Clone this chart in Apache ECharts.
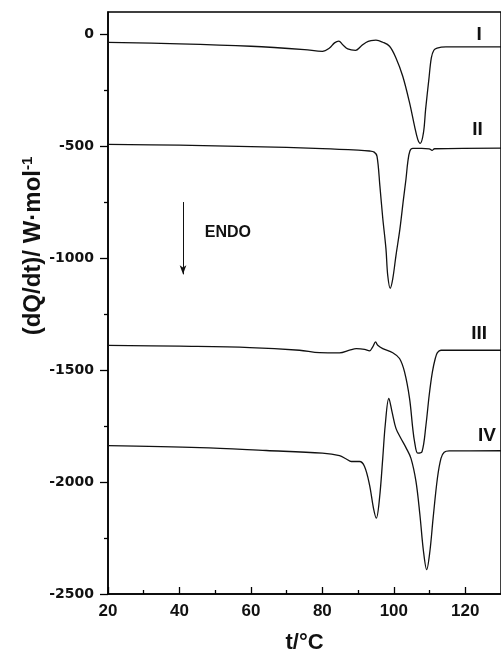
<!DOCTYPE html>
<html>
<head>
<meta charset="utf-8">
<script src="https://cdn.jsdelivr.net/npm/echarts@6/dist/echarts.min.js"></script>
<style>
  html, body { margin: 0; padding: 0; background: #fff; }
  #chart { width: 501px; height: 659px; }
</style>
</head>
<body>
<div id="chart"></div>
<script>
// temperatures (°C) and heat flow (W/mol)
const tI = [20, 40, 60, 75, 80, 82, 83.4, 84.6, 85.7, 87.1, 89.3, 90.8, 92.2, 93.6, 95, 96.9, 98.8, 100.6, 102.5, 104.4, 105.8, 106.7, 107.4, 108.3, 108.9, 109.8, 110.5, 111.2, 112.1, 114.6, 130];
const qI = [-36, -42, -53, -68, -76, -61, -38, -30, -46, -65, -71, -53, -36, -28, -26, -35, -53, -105, -187, -305, -410, -469, -487, -439, -335, -202, -105, -71, -61, -56, -56];

const tII = [20, 40, 60, 80, 90, 93.2, 94.5, 95.3, 96.1, 96.9, 97.8, 98.3, 99.0, 99.7, 100.6, 101.7, 102.7, 103.4, 103.9, 104.5, 105.3, 107.8, 109.9, 110.7, 111.4, 130];
const qII = [-491, -495, -501, -510, -517, -521, -526, -545, -677, -820, -958, -1077, -1134, -1092, -988, -870, -736, -647, -572, -521, -509, -509, -511, -518, -511, -508];

const tIII = [20, 40, 59.7, 73.6, 79.2, 84.8, 87.6, 89.5, 91.8, 93.2, 94.1, 94.9, 95.5, 96.9, 99.7, 101.6, 103.0, 104.4, 105.3, 105.8, 106.7, 107.9, 109.0, 109.9, 110.8, 111.6, 112.2, 113.2, 130];
const qIII = [-1389, -1393, -1399, -1411, -1422, -1423, -1411, -1404, -1407, -1414, -1396, -1374, -1389, -1404, -1422, -1448, -1508, -1626, -1760, -1819, -1871, -1864, -1745, -1612, -1508, -1448, -1422, -1411, -1411];

const tIV = [20, 45.7, 64.3, 80, 84.8, 86.7, 88.1, 90.4, 91.8, 93.2, 94.3, 95.1, 96.0, 96.9, 97.6, 98.6, 99.5, 100.6, 102.0, 103.4, 104.8, 106.2, 107.3, 108.3, 109.2, 110.1, 111.0, 112.2, 113.2, 114.1, 115.5, 130];
const qIV = [-1837, -1846, -1859, -1871, -1882, -1897, -1908, -1908, -1930, -2012, -2116, -2161, -2072, -1894, -1745, -1626, -1686, -1760, -1805, -1846, -1894, -1997, -2146, -2309, -2391, -2309, -2161, -1983, -1894, -1867, -1861, -1860];

const xTicks = [20, 40, 60, 80, 100, 120];
const yTicks = [-2500, -2000, -1500, -1000, -500, 0];

// curve names and where they sit (data coords)
const curveNames = ['I', 'II', 'III', 'IV'];
const curveLabelAt = [[123.9, 0], [123.4, -424], [123.9, -1339], [126.1, -1791]];
// ENDO arrow (data coords)
const endoArrow = [[41, -749], [41, -1072]];
const endoText = [47.1, -884];

const toPts = (t, q) => t.map((v, i) => [v, q[i]]);
const curves = [toPts(tI, qI), toPts(tII, qII), toPts(tIII, qIII), toPts(tIV, qIV)];

const ink = '#111';
const bold = 'Liberation Sans, Arial, sans-serif';

let chart = echarts.init(document.getElementById('chart'), null, { renderer: 'canvas' });

let series = curves.map((pts, i) => ({
    type: 'line',
    data: pts,
    showSymbol: false,
    smooth: 0.35,
    lineStyle: { color: ink, width: 1.3 },
    silent: true,
    markPoint: {
        symbol: 'circle',
        symbolSize: 0,
        silent: true,
        label: {
            show: true,
            position: 'inside',
            color: ink,
            fontFamily: bold,
            fontWeight: 'bold',
            fontSize: 19,
            formatter: p => p.name
        },
        data: [{ name: curveNames[i], coord: curveLabelAt[i] }]
    }
}));

// arrow + ENDO text go on the first series
series[0].markLine = {
    silent: true,
    symbol: ['none', 'arrow'],
    symbolSize: [5, 9],
    lineStyle: { color: ink, width: 1, type: 'solid' },
    label: { show: false },
    data: [[{ coord: endoArrow[0] }, { coord: endoArrow[1] }]]
};
series[0].markPoint.data.push({
    name: 'ENDO',
    coord: endoText,
    label: { position: 'right', distance: 0, fontSize: 16 }
});

let option = {
    backgroundColor: '#fff',
    animation: false,
    grid: {
        left: 108,
        right: -1,
        top: 12,
        bottom: 62,
        show: true,
        borderColor: '#000',
        borderWidth: 1.5
    },
    xAxis: {
        type: 'value',
        min: 20,
        max: 130,
        interval: 20,
        name: 't/°C',
        nameLocation: 'middle',
        nameGap: 38,
        nameTextStyle: { color: ink, fontFamily: bold, fontWeight: 'bold', fontSize: 22 },
        axisLine: { onZero: false, lineStyle: { color: '#000', width: 1.5 } },
        axisTick: { inside: true, length: 7, customValues: xTicks, lineStyle: { color: '#000', width: 1.3 } },
        minorTick: { show: true, splitNumber: 2, length: 4, lineStyle: { color: '#000', width: 1.3 } },
        axisLabel: { customValues: xTicks, margin: 9, color: ink, fontFamily: bold, fontWeight: 'bold', fontSize: 17 },
        splitLine: { show: false }
    },
    yAxis: {
        type: 'value',
        min: -2500,
        max: 100,
        interval: 500,
        axisLine: { onZero: false, lineStyle: { color: '#000', width: 1.5 } },
        axisTick: { length: 8, customValues: yTicks, lineStyle: { color: '#000', width: 1.3 } },
        minorTick: { show: true, splitNumber: 2, length: 4, lineStyle: { color: '#000', width: 1.3 } },
        axisLabel: {
            customValues: yTicks,
            margin: 14,
            color: ink,
            fontFamily: 'DejaVu Sans',
            fontWeight: 'bold',
            fontSize: 14,
            formatter: v => String(v)
        },
        splitLine: { show: false }
    },
    graphic: [{
        type: 'text',
        x: 33,
        y: 246,
        rotation: Math.PI / 2,
        silent: true,
        style: {
            text: '(dQ/dt)/ W·mol{sup|-1}',
            fill: ink,
            font: 'bold 24px Liberation Sans, Arial, sans-serif',
            align: 'center',
            verticalAlign: 'middle',
            rich: {
                sup: { fontSize: 15, fontWeight: 'bold', fontFamily: bold, verticalAlign: 'top', padding: [0, 0, 10, 0], fill: ink }
            }
        }
    }],
    series: series
};

option && chart.setOption(option);
</script>
</body>
</html>
